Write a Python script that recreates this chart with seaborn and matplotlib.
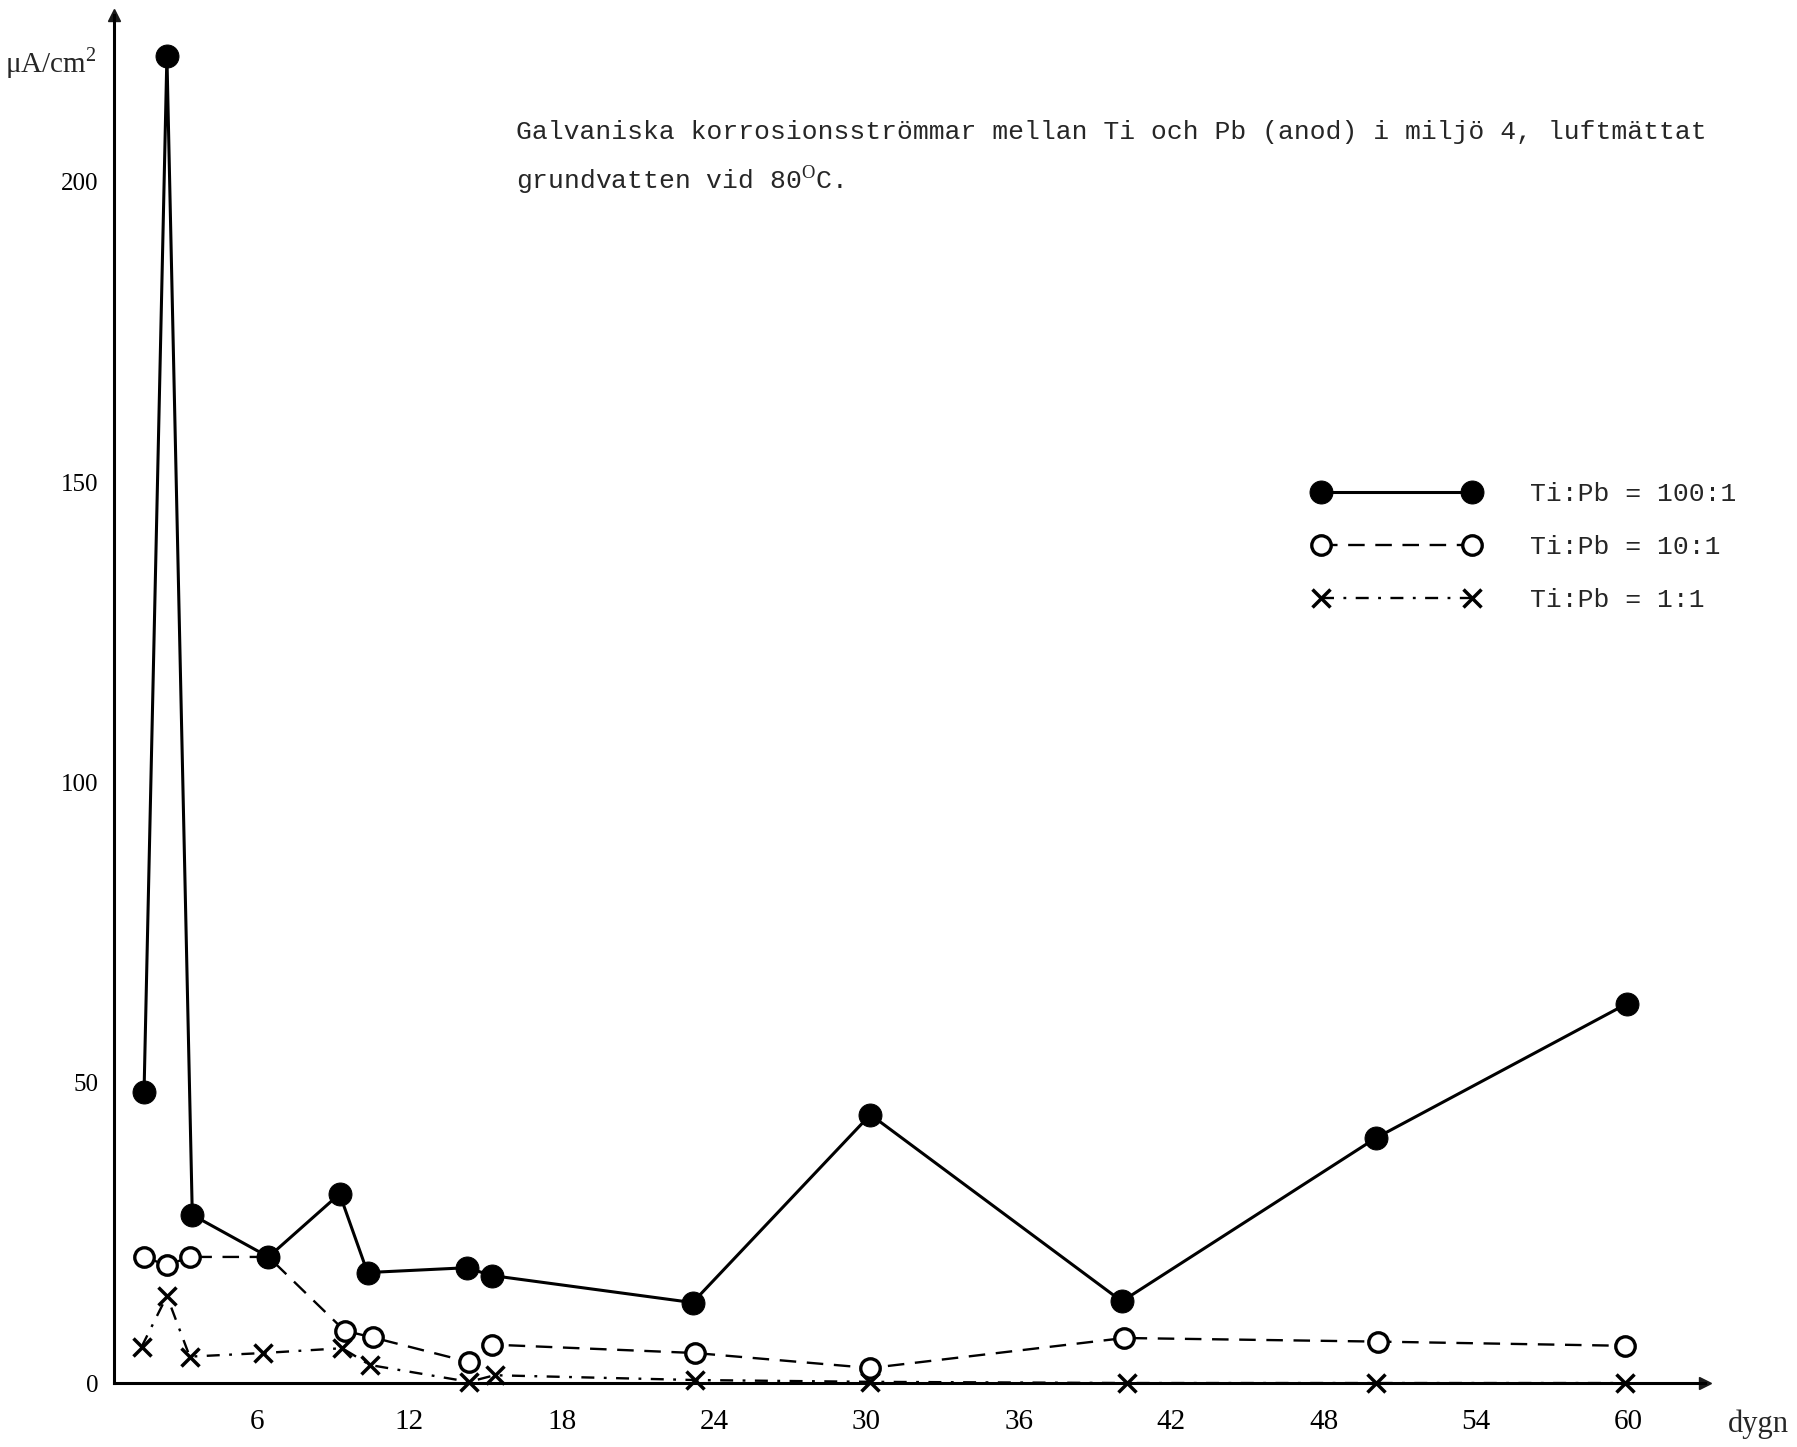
import matplotlib
matplotlib.use("Agg")
import matplotlib.pyplot as plt
import matplotlib.transforms as mtransforms
import seaborn as sns

# days and current density (uA/cm2)
days_100 = [1.2, 2.1, 3.1, 6.1, 8.9, 10.0, 13.9, 14.9, 22.8, 29.8, 39.7, 49.7, 59.6]
cur_100 = [48.5, 221.0, 28.0, 21.0, 31.5, 18.4, 19.2, 17.9, 13.4, 44.7, 13.6, 40.8, 63.2]

days_10 = [1.2, 2.1, 3.0, 6.1, 9.1, 10.2, 14.0, 14.9, 22.9, 29.8, 39.8, 49.8, 59.5]
cur_10 = [21.0, 19.6, 21.0, 21.0, 8.7, 7.6, 3.5, 6.4, 5.0, 2.5, 7.5, 6.9, 6.2]

days_1 = [1.1, 2.1, 3.0, 5.9, 9.0, 10.1, 14.0, 15.0, 22.9, 29.8, 39.9, 49.7, 59.5]
cur_1 = [6.0, 14.5, 4.4, 5.0, 5.8, 3.0, 0.2, 1.3, 0.5, 0.2, 0.0, 0.0, 0.0]

labels = ["Ti:Pb = 100:1", "Ti:Pb = 10:1", "Ti:Pb = 1:1"]
xticks = [6, 12, 18, 24, 30, 36, 42, 48, 54, 60]
yticks = [0, 50, 100, 150, 200]

title_1 = "Galvaniska korrosionsströmmar mellan Ti och Pb (anod) i miljö 4, luftmättat"
title_2 = "grundvatten vid 80$^{\\rm O}$C."

sns.set_theme(style="white")
plt.rcParams["font.family"] = ["Liberation Serif", "DejaVu Serif"]
plt.rcParams["mathtext.fontset"] = "custom"
plt.rcParams["mathtext.rm"] = "Liberation Serif"

fig = plt.figure(figsize=(17.97, 14.47), dpi=100)
ax = fig.add_axes([0.0632, 0.0442, 0.8856, 0.9454])

sns.lineplot(x=days_10, y=cur_10, ax=ax, color="black", label=labels[1],
             marker="o", markersize=14, markerfacecolor="white",
             markeredgecolor="black", markeredgewidth=2.4,
             linewidth=1.7, linestyle=(0, (7, 4.5)), zorder=3, clip_on=False)
sns.lineplot(x=days_1, y=cur_1, ax=ax, color="black", label=labels[2],
             marker="x", markersize=13, markeredgecolor="black",
             markeredgewidth=2.5,
             linewidth=1.7, linestyle=(0, (5.5, 4, 1.2, 4)), zorder=3,
             clip_on=False)
sns.lineplot(x=days_100, y=cur_100, ax=ax, color="black", label=labels[0],
             marker="o", markersize=16.5, markerfacecolor="black",
             markeredgecolor="black", linewidth=2.2, zorder=4, clip_on=False)

ax.set_xlim(0, 62.66)
ax.set_ylim(0, 227.8)
ax.set_xticks(xticks)
ax.set_yticks(yticks)
ax.set_xlabel("")
ax.set_ylabel("")

for side in ["top", "right"]:
    ax.spines[side].set_visible(False)
for side in ["left", "bottom"]:
    ax.spines[side].set_linewidth(2.2)
    ax.spines[side].set_color("black")

ax.tick_params(axis="both", direction="in", length=7, width=2, colors="black")
ax.tick_params(axis="x", labelsize=21, pad=19)
ax.tick_params(axis="y", labelsize=18, pad=11)
shift = mtransforms.ScaledTranslation(-0.09, 0, fig.dpi_scale_trans)
for lab in ax.get_xticklabels():
    lab.set_transform(lab.get_transform() + shift)

# axis arrow heads
ax.plot(0, 1, "^k", markersize=9, transform=ax.get_xaxis_transform(), clip_on=False)
ax.plot(1, 0, ">k", markersize=9, transform=ax.get_yaxis_transform(), clip_on=False)

handles, labs = ax.get_legend_handles_labels()
order = [labs.index(l) for l in labels]
ax.legend([handles[i] for i in order], [labs[i] for i in order],
          loc="center left", bbox_to_anchor=(0.7309, 0.6220),
          bbox_transform=fig.transFigure, frameon=False, numpoints=2,
          handlelength=6.3, handletextpad=1.9, labelspacing=1.1,
          borderpad=0, borderaxespad=0,
          prop={"family": "Liberation Mono", "size": 19})

fig.text(0.287, 0.9088, title_1, family="Liberation Mono", fontsize=19,
         ha="left", va="center")
fig.text(0.287, 0.8756, title_2, family="Liberation Mono", fontsize=19,
         ha="left", va="center")

fig.text(0.003, 0.950, "μA/cm$^{2}$", fontsize=21, ha="left", va="baseline")
fig.text(0.9616, 0.0104, "dygn", fontsize=22, ha="left", va="baseline")

fig.savefig("out.png", dpi=100, facecolor="white")
